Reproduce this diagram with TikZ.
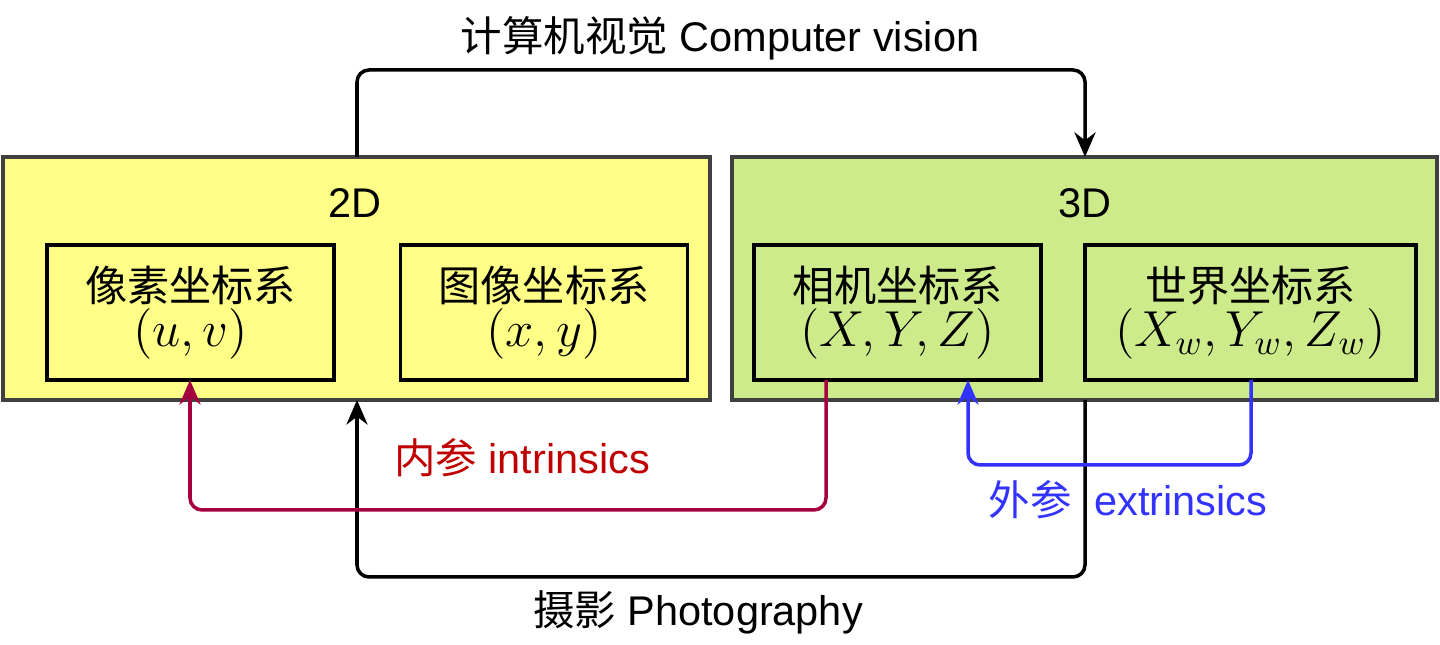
\documentclass[tikz,border=0pt]{standalone}
\usepackage{fontspec}
\setmainfont{Liberation Sans}
\newfontfamily\cjk{Noto Sans CJK SC}
\usetikzlibrary{arrows.meta}
\definecolor{boxyellow}{HTML}{FFFF88}
\definecolor{boxgreen}{HTML}{CDEB8B}
\definecolor{inred}{HTML}{A50040}
\definecolor{intext}{HTML}{C00000}
\definecolor{exblue}{HTML}{3333FF}
\newcommand{\bigmath}[1]{{\fontsize{14.5}{16}\selectfont$#1$}}
\tikzset{
	outer/.style={draw=black!75, line width=1.1pt, minimum height=2.43cm},
	inner/.style={draw=black, line width=1.1pt, minimum height=1.35cm, align=center, font=\fontsize{12}{15}\selectfont},
	link/.style={line width=1pt, rounded corners=0.12cm, -{Stealth[length=7pt,width=6pt]}},
	lbl/.style={font=\fontsize{11.8}{13}\selectfont}
}
\begin{document}
\begin{tikzpicture}
	\useasboundingbox (0,0) rectangle (14.4,6.45);
	%outer boxes
	\node[outer, fill=boxyellow, minimum width=7.07cm] (twoD) at (3.565,3.665) {};
	\node[outer, fill=boxgreen, minimum width=7.05cm] (threeD) at (10.845,3.665) {};
	\node[lbl] at (3.55,4.42) {2D};
	\node[lbl] at (10.85,4.42) {3D};
	%inner boxes
	\node[inner, minimum width=2.87cm] (pix) at (1.905,3.325) {{\cjk 像素坐标系}\\[-2pt]\bigmath{(u,v)}};
	\node[inner, minimum width=2.87cm] (img) at (5.44,3.325) {{\cjk 图像坐标系}\\[-2pt]\bigmath{(x,y)}};
	\node[inner, minimum width=2.87cm] (cam) at (8.975,3.325) {{\cjk 相机坐标系}\\[-2pt]\bigmath{(X,Y,Z)}};
	\node[inner, minimum width=3.31cm] (world) at (12.505,3.325) {{\cjk 世界坐标系}\\[-2pt]\bigmath{(X_w,Y_w,Z_w)}};
	%connector ends
	\coordinate (cvA) at (3.57,4.88);
	\coordinate (cvB) at (10.85,4.88);
	\coordinate (phA) at (10.85,2.45);
	\coordinate (phB) at (3.57,2.45);
	\coordinate (inA) at (8.26,2.65);
	\coordinate (inB) at (1.90,2.65);
	\coordinate (exA) at (12.51,2.65);
	\coordinate (exB) at (9.68,2.65);
	%arrows
	\draw[link] (cvA) |- (7.2,5.75) -| (cvB);
	\draw[link] (phA) |- (7.2,0.68) -| (phB);
	\draw[link, inred] (inA) |- (5,1.35) -| (inB);
	\draw[link, exblue] (exA) |- (11,1.8) -| (exB);
	%labels
	\node[lbl] at (7.2,6.07) {{\cjk 计算机视觉} Computer vision};
	\node[lbl] at (6.98,0.33) {{\cjk 摄影} Photography};
	\node[lbl, text=intext] at (5.22,1.87) {{\cjk 内参} intrinsics};
	\node[lbl, text=exblue] at (11.28,1.45) {{\cjk 外参}\ \ extrinsics};
\end{tikzpicture}
\end{document}
